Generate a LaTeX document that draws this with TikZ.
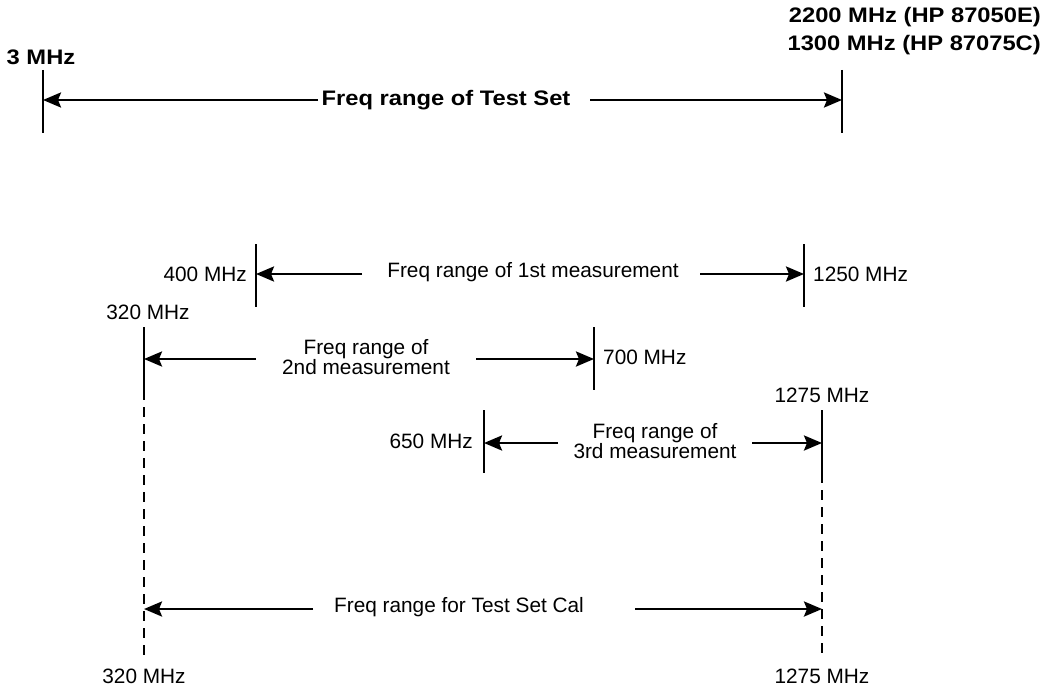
\documentclass[tikz,border=0pt]{standalone}
\usepackage{fontspec}
\setmainfont{Liberation Sans}
\newfontfamily\boldlab{Liberation Sans Bold}[FakeStretch=1.13]
\usetikzlibrary{arrows.meta}
\begin{document}
\begin{tikzpicture}[x=1pt,y=-1pt,
  tick/.style={line width=2.4pt},
  dashline/.style={line width=2pt,dash pattern=on 10pt off 7pt},
  arr/.style={line width=2.6pt,-{Stealth[length=18pt,width=15pt,inset=3pt]}},
  lab/.style={inner sep=0pt,font=\fontsize{20.8}{20}\selectfont},
  blab/.style={inner sep=0pt,font=\fontsize{21}{28}\boldlab}]
\useasboundingbox (0,0) rectangle (1046,687);
% top range
\coordinate (a1) at (43,70); \coordinate (a2) at (43,133);
\coordinate (b1) at (842,70); \coordinate (b2) at (842,133);
\coordinate (aL) at (43,100); \coordinate (aR) at (842,100);
\draw[tick] (a1) -- (a2);
\draw[tick] (b1) -- (b2);
\node[blab] (t0) at (446,100) {Freq range of Test Set};
\coordinate (t0l) at (318,100); \coordinate (t0r) at (590,100);
\draw[arr] (t0l) -- (aL);
\draw[arr] (t0r) -- (aR);
\node[blab] (l3) at (41,57) {3 MHz};
\node[blab,align=right,anchor=east] (l2200) at (1041,31) {2200 MHz (HP 87050E)\\1300 MHz (HP 87075C)};
% 1st measurement
\coordinate (c1) at (256,244); \coordinate (c2) at (256,307);
\coordinate (d1) at (804,244); \coordinate (d2) at (804,307);
\coordinate (cL) at (256,274); \coordinate (dR) at (804,274);
\draw[tick] (c1) -- (c2);
\draw[tick] (d1) -- (d2);
\node[lab] (t1) at (533,272) {Freq range of 1st measurement};
\coordinate (t1l) at (362,274); \coordinate (t1r) at (700,274);
\draw[arr] (t1l) -- (cL);
\draw[arr] (t1r) -- (dR);
\node[lab,anchor=east] (l400) at (247,274) {400 MHz};
\node[lab,anchor=west] (l1250) at (813,274) {1250 MHz};
% 2nd measurement
\coordinate (e1) at (144,327); \coordinate (e2) at (144,390);
\coordinate (f1) at (594,327); \coordinate (f2) at (594,390);
\coordinate (eL) at (144,359); \coordinate (fR) at (594,359);
\draw[tick] (e1) -- (e2);
\draw[tick] (f1) -- (f2);
\node[lab,align=center] (t2) at (366,357) {Freq range of\\2nd measurement};
\coordinate (t2l) at (256,359); \coordinate (t2r) at (476,359);
\draw[arr] (t2l) -- (eL);
\draw[arr] (t2r) -- (fR);
\node[lab] (l320a) at (148,312) {320 MHz};
\node[lab,anchor=west] (l700) at (603,357) {700 MHz};
% 3rd measurement
\coordinate (g1) at (484,410); \coordinate (g2) at (484,473);
\coordinate (h1) at (822,410); \coordinate (h2) at (822,473);
\coordinate (gL) at (484,443); \coordinate (hR) at (822,443);
\draw[tick] (g1) -- (g2);
\draw[tick] (h1) -- (h2);
\node[lab,align=center] (t3) at (655,441) {Freq range of\\3rd measurement};
\coordinate (t3l) at (558,443); \coordinate (t3r) at (752,443);
\draw[arr] (t3l) -- (gL);
\draw[arr] (t3r) -- (hR);
\node[lab] (l1275a) at (822,395) {1275 MHz};
\node[lab,anchor=east] (l650) at (473,441) {650 MHz};
% dashed extensions
\coordinate (e3) at (144,660); \coordinate (h3) at (822,660);
\draw[dashline] (e2) -- (e3);
\draw[dashline] (h2) -- (h3);
% cal range
\coordinate (iL) at (144,609); \coordinate (iR) at (822,609);
\node[lab] (t4) at (459,607) {Freq range for Test Set Cal};
\coordinate (t4l) at (313,609); \coordinate (t4r) at (635,609);
\draw[arr] (t4l) -- (iL);
\draw[arr] (t4r) -- (iR);
\node[lab] (l320b) at (144,676) {320 MHz};
\node[lab] (l1275b) at (822,676) {1275 MHz};
\end{tikzpicture}
\end{document}
